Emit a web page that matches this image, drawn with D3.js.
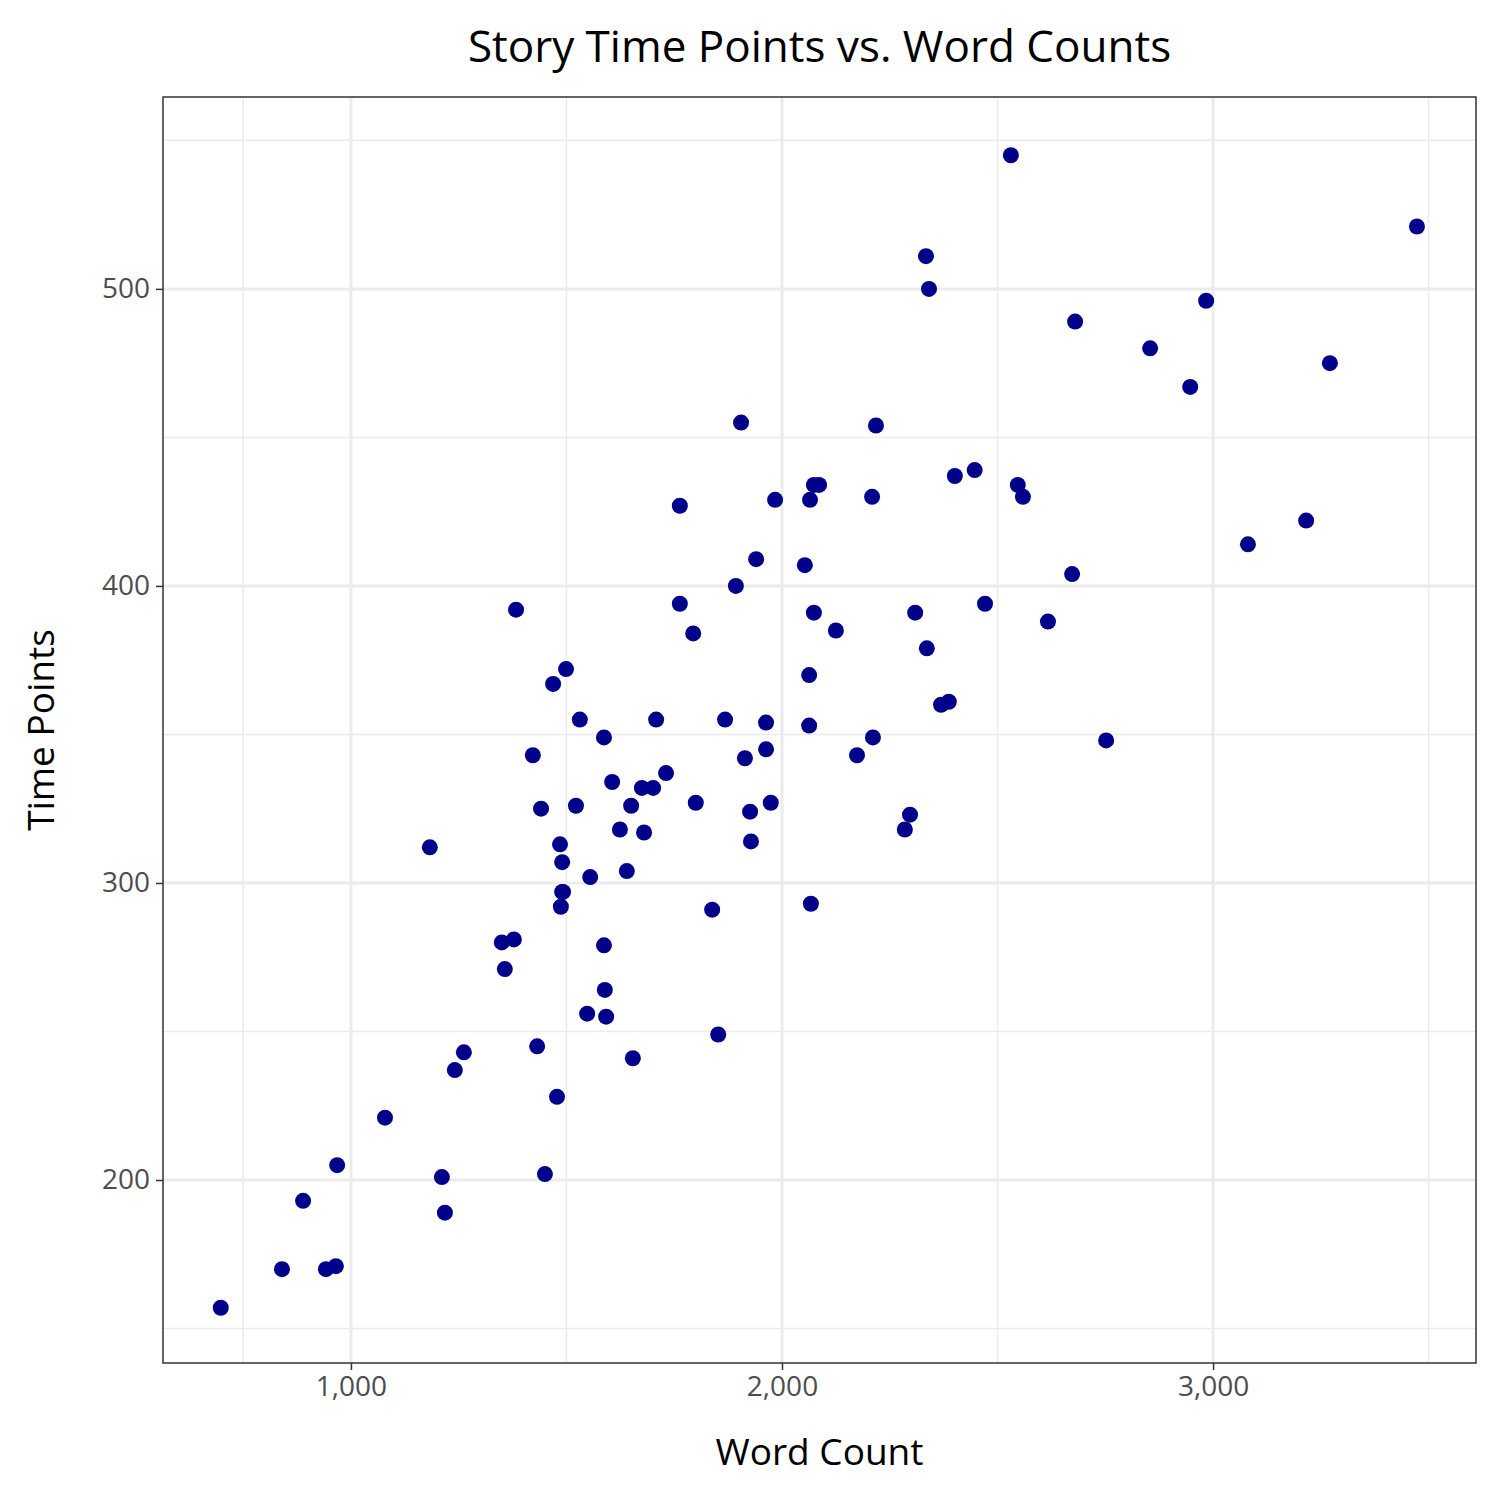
<!DOCTYPE html>
<html><head><meta charset="utf-8">
<script src="https://cdn.jsdelivr.net/npm/d3@7"></script>
<style>body{margin:0;background:#fff}text{font-family:"Open Sans","Noto Sans",sans-serif}</style>
</head><body>
<svg id="chart" width="1500" height="1500"></svg>
<script>
// word counts and time points
const wordCount = [698,840,889,942,965,968,1079,1183,1211,1218,1241,1262,1350,1357,1378,1383,1422,1432,1441,1450,1469,1478,1485,1487,1490,1490,1492,1499,1522,1531,1548,1555,1587,1587,1589,1592,1606,1624,1640,1650,1654,1675,1680,1701,1708,1731,1763,1763,1794,1800,1838,1852,1868,1893,1905,1914,1926,1928,1940,1963,1963,1974,1984,2053,2063,2063,2065,2067,2074,2074,2086,2125,2174,2209,2211,2218,2285,2297,2309,2334,2336,2341,2369,2387,2401,2447,2471,2531,2547,2559,2617,2673,2680,2752,2854,2947,2984,3081,3216,3271,3473];
const timePoints = [157,170,193,170,171,205,221,312,201,189,237,243,280,271,281,392,343,245,325,202,367,228,313,292,297,307,297,372,326,355,256,302,279,349,264,255,334,318,304,326,241,332,317,332,355,337,427,394,384,327,291,249,355,400,455,342,324,314,409,354,345,327,429,407,353,370,429,293,434,391,434,385,343,430,349,454,318,323,391,511,379,500,360,361,437,439,394,545,434,430,388,404,489,348,480,467,496,414,422,475,521];
const xTicks = [1000,2000,3000];
const xMinor = [750,1500,2500,3500];
const yTicks = [200,300,400,500];
const yMinor = [150,250,350,450,550];

const svg = d3.select('#chart');
const pLeft = 163, pRight = 1476, pTop = 97, pBottom = 1363;
const x = d3.scaleLinear().domain([564, 3610]).range([pLeft, pRight]);
const y = d3.scaleLinear().domain([138.4, 564.6]).range([pBottom, pTop]);

const g = svg.append('g');
// minor grid
g.selectAll('.vmin').data(xMinor).enter().append('line')
  .attr('x1', d => x(d)).attr('x2', d => x(d)).attr('y1', pTop).attr('y2', pBottom)
  .attr('stroke', '#ebebeb').attr('stroke-width', 1.5);
g.selectAll('.hmin').data(yMinor).enter().append('line')
  .attr('y1', d => y(d)).attr('y2', d => y(d)).attr('x1', pLeft).attr('x2', pRight)
  .attr('stroke', '#ebebeb').attr('stroke-width', 1.5);
// major grid
g.selectAll('.vmaj').data(xTicks).enter().append('line')
  .attr('x1', d => x(d)).attr('x2', d => x(d)).attr('y1', pTop).attr('y2', pBottom)
  .attr('stroke', '#ebebeb').attr('stroke-width', 3);
g.selectAll('.hmaj').data(yTicks).enter().append('line')
  .attr('y1', d => y(d)).attr('y2', d => y(d)).attr('x1', pLeft).attr('x2', pRight)
  .attr('stroke', '#ebebeb').attr('stroke-width', 3);

// points
g.selectAll('circle').data(wordCount).enter().append('circle')
  .attr('cx', d => x(d)).attr('cy', (d, i) => y(timePoints[i]))
  .attr('r', 8).attr('fill', '#00008b');

// panel border
svg.append('rect').attr('x', pLeft).attr('y', pTop).attr('width', pRight - pLeft).attr('height', pBottom - pTop)
  .attr('fill', 'none').attr('stroke', '#333').attr('stroke-width', 1.5);

// axes
const xa = svg.append('g').attr('transform', `translate(0,${pBottom})`)
  .call(d3.axisBottom(x).tickValues(xTicks).tickSize(7).tickPadding(6));
const ya = svg.append('g').attr('transform', `translate(${pLeft},0)`)
  .call(d3.axisLeft(y).tickValues(yTicks).tickSize(7).tickPadding(6));
[xa, ya].forEach(a => {
  a.select('.domain').remove();
  a.selectAll('.tick line').attr('stroke', '#333').attr('stroke-width', 1.5);
  a.selectAll('.tick text').attr('fill', '#4d4d4d').style('font-size', '28px')
    .style('font-family', '"Open Sans","Noto Sans",sans-serif');
});

svg.append('text').attr('x', (pLeft + pRight) / 2).attr('y', 62).attr('text-anchor', 'middle')
  .style('font-size', '44px').text('Story Time Points vs. Word Counts');
svg.append('text').attr('x', (pLeft + pRight) / 2).attr('y', 1465).attr('text-anchor', 'middle')
  .style('font-size', '37px').text('Word Count');
svg.append('text').attr('transform', `translate(54,${(pTop + pBottom) / 2}) rotate(-90)`).attr('text-anchor', 'middle')
  .style('font-size', '37px').text('Time Points');
</script>
</body></html>
